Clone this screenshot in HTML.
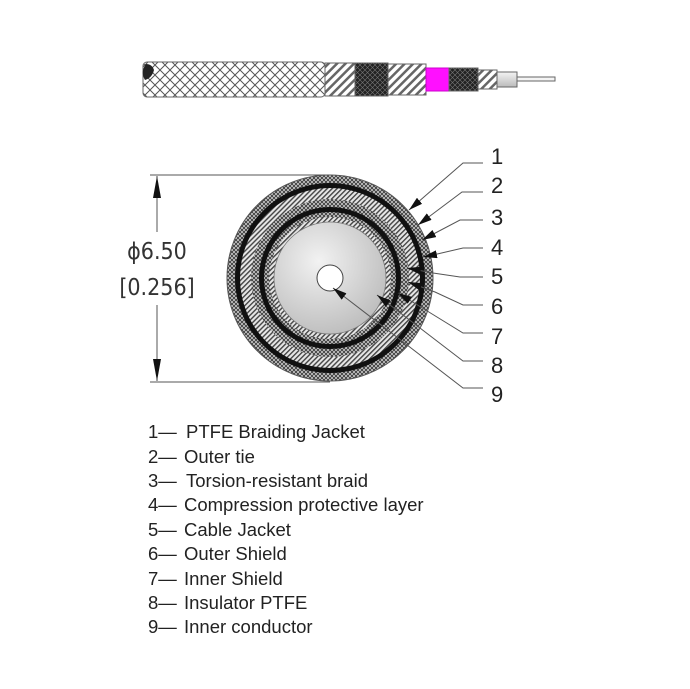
<!DOCTYPE html>
<html><head><meta charset="utf-8"><style>
html,body{margin:0;padding:0;background:#fff;width:690px;height:689px;overflow:hidden}
svg{display:block}
.lg{font-family:"Liberation Sans",sans-serif;font-size:18.5px;fill:#222}
.num{font-family:"Liberation Sans",sans-serif;font-size:22px;fill:#222}
.dim{font-family:"DejaVu Sans Condensed","DejaVu Sans",sans-serif;font-size:23px;fill:#333}
</style></head><body>
<svg width="690" height="689" viewBox="0 0 690 689" xmlns="http://www.w3.org/2000/svg">
<defs>
<pattern id="xh" width="10" height="10" patternUnits="userSpaceOnUse">
<rect width="10" height="10" fill="#fff"/><path d="M0 0L10 10M10 0L0 10" stroke="#555" stroke-width="1"/></pattern>
<pattern id="xhd" width="5" height="5" patternUnits="userSpaceOnUse">
<rect width="5" height="5" fill="#222"/><path d="M0 0L5 5M5 0L0 5" stroke="#777" stroke-width=".6"/></pattern>
<pattern id="dh" width="6" height="6" patternUnits="userSpaceOnUse" patternTransform="rotate(45)">
<rect width="6" height="6" fill="#fff"/><rect width="2.5" height="6" fill="#666"/></pattern>
<pattern id="fx" width="4" height="4" patternUnits="userSpaceOnUse">
<rect width="4" height="4" fill="#ccc"/><path d="M0 0L4 4M4 0L0 4" stroke="#333" stroke-width=".8"/></pattern>
<pattern id="fh" width="3.5" height="3.5" patternUnits="userSpaceOnUse" patternTransform="rotate(45)">
<rect width="3.5" height="3.5" fill="#e6e6e6"/><rect width="1.4" height="3.5" fill="#444"/></pattern>
<linearGradient id="gr" x1="0" y1="0" x2="0" y2="1"><stop offset="0" stop-color="#f4f4f4"/><stop offset="1" stop-color="#bbb"/></linearGradient>
<radialGradient id="rg" cx=".4" cy=".35" r=".7"><stop offset="0" stop-color="#f2f2f2"/><stop offset="1" stop-color="#bcbcbc"/></radialGradient>
<marker id="ar2" markerWidth="14" markerHeight="8" refX="14" refY="4" orient="auto" markerUnits="userSpaceOnUse"><path d="M0 0L14 4L0 8z" fill="#111"/></marker>
</defs>

<!-- top cable -->
<g stroke="#666" stroke-width="1">
<rect x="143" y="62" width="182" height="35" rx="4" fill="url(#xh)"/>
<rect x="325" y="63" width="30" height="33" fill="url(#dh)"/>
<rect x="355" y="63" width="33" height="33" fill="url(#xhd)"/>
<rect x="388" y="64" width="38" height="31" fill="url(#dh)"/>
<rect x="426" y="68" width="23" height="23" fill="#ff10ff" stroke="#c0c"/>
<rect x="449" y="68" width="29" height="23" fill="url(#xhd)"/>
<rect x="478" y="70" width="19" height="19" fill="url(#dh)"/>
<rect x="497" y="72" width="20" height="15" fill="url(#gr)"/>
<rect x="517" y="77" width="38" height="4" fill="#f4f4f4"/>
</g>
<path d="M146 64Q140 72 145 80Q152 78 154 70Q152 64 146 64z" fill="#222"/>

<!-- dimension -->
<g stroke="#555" stroke-width="1" fill="none">
<line x1="150" y1="175" x2="330" y2="175"/>
<line x1="150" y1="382" x2="330" y2="382"/>
<line x1="157" y1="176" x2="157" y2="232"/>
<line x1="157" y1="305" x2="157" y2="381"/>
</g>
<path d="M157 176L153 198L161 198z" fill="#111"/>
<path d="M157 381L153 359L161 359z" fill="#111"/>
<text class="dim" x="157" y="259" text-anchor="middle">ϕ6.50</text>
<text class="dim" x="157" y="295" text-anchor="middle">[0.256]</text>

<!-- cross section -->
<g>
<circle cx="330" cy="278" r="103" fill="url(#fx)" stroke="#555" stroke-width="1"/>
<circle cx="330" cy="278" r="95" fill="#111"/>
<circle cx="330" cy="278" r="90" fill="url(#fh)"/>
<circle cx="330" cy="278" r="79" fill="url(#fx)"/>
<circle cx="330" cy="278" r="71" fill="#111"/>
<circle cx="330" cy="278" r="66" fill="url(#fx)"/>
<circle cx="330" cy="278" r="61" fill="url(#fh)"/>
<circle cx="330" cy="278" r="56" fill="url(#rg)" stroke="#777" stroke-width=".8"/>
<circle cx="330" cy="278" r="13" fill="#fff" stroke="#444" stroke-width="1"/>
</g>

<!-- leaders -->
<g stroke="#555" stroke-width="1" fill="none">
<polyline points="483,163 463,163 409,210" marker-end="url(#ar2)"/>
<polyline points="483,192 462,192 418,225" marker-end="url(#ar2)"/>
<polyline points="483,220 460,220 422,240" marker-end="url(#ar2)"/>
<polyline points="483,248 463,248 433,255 423,257" marker-end="url(#ar2)"/>
<polyline points="483,277 460,277 433,273 407,268" marker-end="url(#ar2)"/>
<polyline points="483,305 463,305 435,292 408,282" marker-end="url(#ar2)"/>
<polyline points="483,333 463,333 398,293" marker-end="url(#ar2)"/>
<polyline points="483,361 463,361 377,295" marker-end="url(#ar2)"/>
<polyline points="483,388 463,388 333,288" marker-end="url(#ar2)"/>
</g>
<g class="num">
<text x="491" y="164">1</text><text x="491" y="193">2</text><text x="491" y="225">3</text>
<text x="491" y="255">4</text><text x="491" y="284">5</text><text x="491" y="314">6</text>
<text x="491" y="344">7</text><text x="491" y="373">8</text><text x="491" y="402">9</text>
</g>

<!-- legend -->
<g class="lg">
<text x="148" y="438">1— <tspan x="186">PTFE Braiding Jacket</tspan></text>
<text x="148" y="463">2— <tspan x="184">Outer tie</tspan></text>
<text x="148" y="487">3— <tspan x="186">Torsion-resistant braid</tspan></text>
<text x="148" y="511">4— <tspan x="184">Compression protective layer</tspan></text>
<text x="148" y="536">5— <tspan x="184">Cable Jacket</tspan></text>
<text x="148" y="560">6— <tspan x="184">Outer Shield</tspan></text>
<text x="148" y="585">7— <tspan x="184">Inner Shield</tspan></text>
<text x="148" y="609">8— <tspan x="184">Insulator PTFE</tspan></text>
<text x="148" y="633">9— <tspan x="184">Inner conductor</tspan></text>
</g>
</svg>
</body></html>
